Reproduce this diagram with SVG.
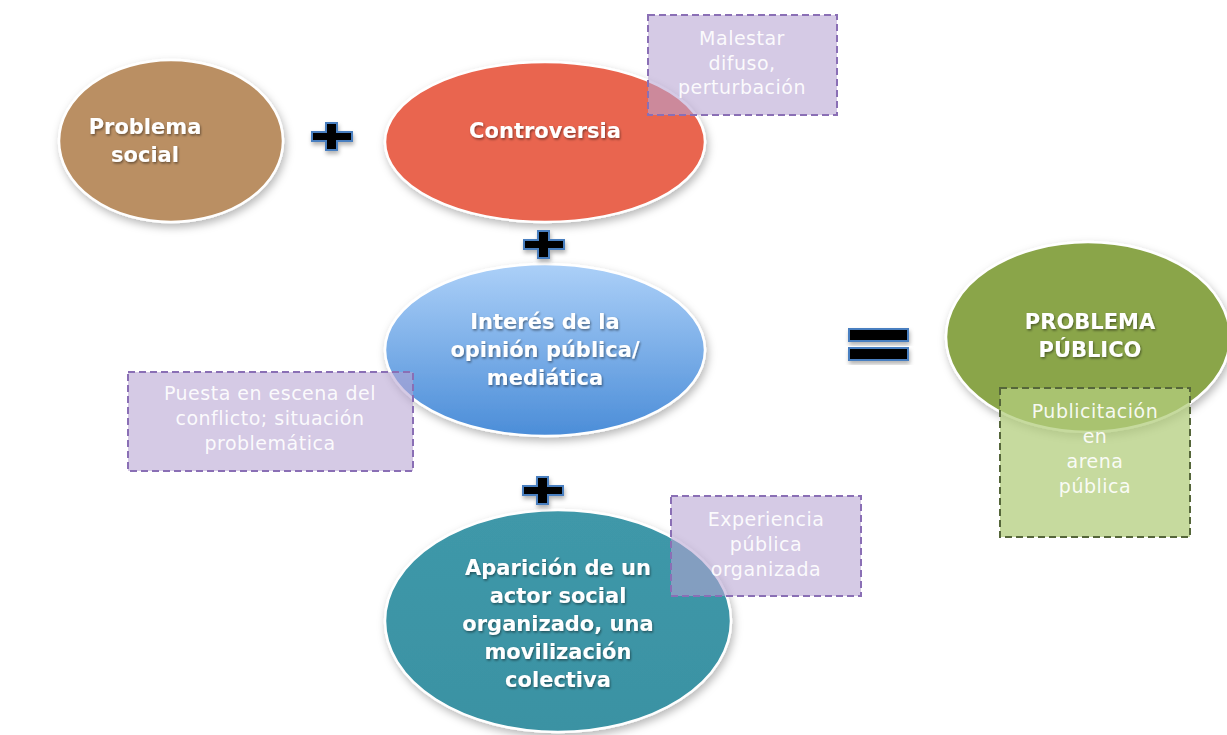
<svg xmlns="http://www.w3.org/2000/svg" width="1227" height="735" viewBox="0 0 1227 735">
<defs>
  <filter id="shadow" x="-20%" y="-20%" width="140%" height="150%">
    <feDropShadow dx="2" dy="4" stdDeviation="4" flood-color="#000" flood-opacity="0.28"/>
  </filter>
  <filter id="tshadow" x="-10%" y="-30%" width="120%" height="160%">
    <feDropShadow dx="1" dy="1.5" stdDeviation="1.2" flood-color="#000" flood-opacity="0.45"/>
  </filter>
  <filter id="sshadow" x="-20%" y="-40%" width="140%" height="180%">
    <feDropShadow dx="1" dy="3" stdDeviation="2" flood-color="#000" flood-opacity="0.3"/>
  </filter>
  <linearGradient id="blueGrad" x1="0" y1="0" x2="0" y2="1">
    <stop offset="0" stop-color="#acd0f8"/>
    <stop offset="1" stop-color="#4b8dd8"/>
  </linearGradient>
  <linearGradient id="tealGrad" x1="0" y1="0" x2="0" y2="1">
    <stop offset="0" stop-color="#3f98a9"/>
    <stop offset="1" stop-color="#3a92a3"/>
  </linearGradient>
</defs>
<style>
  .ell { stroke: #ffffff; stroke-width: 2.5; filter: url(#shadow); }
  .etxt { font-family: "DejaVu Sans", Verdana, sans-serif; font-weight: bold; font-size: 21px; fill: #ffffff; text-anchor: middle; filter: url(#tshadow); }
  .box { fill: #b7a3d2; fill-opacity: 0.58; stroke: #8a6fb5; stroke-width: 2; stroke-dasharray: 7 4; }
  .gbox { fill: #b3cd7e; fill-opacity: 0.75; stroke: #55663a; stroke-width: 2; stroke-dasharray: 7 4; }
  .btxt { font-family: "DejaVu Sans", Verdana, sans-serif; font-size: 19px; fill: #ffffff; fill-opacity: 0.92; text-anchor: middle; letter-spacing: 0.5px; }
  .sym { fill: #000000; stroke: #4a7fc0; stroke-width: 2; filter: url(#sshadow); }
</style>
<rect width="1227" height="735" fill="#ffffff"/>

<g id="problema-social">
  <ellipse class="ell" cx="171" cy="141" rx="112" ry="81" fill="#ba8f63"/>
  <text class="etxt" x="145" y="134">Problema</text>
  <text class="etxt" x="145" y="162">social</text>
</g>

<g id="controversia">
  <ellipse class="ell" cx="545" cy="142" rx="160" ry="80" fill="#e9654f"/>
  <text class="etxt" x="545" y="138">Controversia</text>
</g>

<g id="malestar">
  <rect class="box" x="648" y="15" width="189" height="100"/>
  <text class="btxt" x="742" y="45">Malestar</text>
  <text class="btxt" x="742" y="70">difuso,</text>
  <text class="btxt" x="742" y="94">perturbación</text>
</g>

<g id="interes">
  <ellipse class="ell" cx="545" cy="350" rx="160" ry="86" fill="url(#blueGrad)"/>
  <text class="etxt" x="545" y="329">Interés de la</text>
  <text class="etxt" x="545" y="357">opinión pública/</text>
  <text class="etxt" x="545" y="385">mediática</text>
</g>

<g id="puesta">
  <rect class="box" x="128" y="372" width="285" height="99"/>
  <text class="btxt" x="270" y="400">Puesta en escena del</text>
  <text class="btxt" x="270" y="425">conflicto; situación</text>
  <text class="btxt" x="270" y="450">problemática</text>
</g>

<g id="aparicion">
  <ellipse class="ell" cx="558" cy="621" rx="173" ry="111" fill="url(#tealGrad)"/>
  <text class="etxt" x="558" y="575">Aparición de un</text>
  <text class="etxt" x="558" y="603">actor social</text>
  <text class="etxt" x="558" y="631">organizado, una</text>
  <text class="etxt" x="558" y="659">movilización</text>
  <text class="etxt" x="558" y="687">colectiva</text>
</g>

<g id="experiencia">
  <rect class="box" x="671" y="496" width="190" height="100"/>
  <text class="btxt" x="766" y="526">Experiencia</text>
  <text class="btxt" x="766" y="551">pública</text>
  <text class="btxt" x="766" y="576">organizada</text>
</g>

<g id="problema-publico">
  <ellipse class="ell" cx="1088" cy="337" rx="142" ry="95" fill="#8aa54a"/>
  <text class="etxt" x="1090" y="329">PROBLEMA</text>
  <text class="etxt" x="1090" y="357">PÚBLICO</text>
</g>

<g id="publicitacion">
  <rect class="gbox" x="1000" y="388" width="190" height="149"/>
  <text class="btxt" x="1095" y="418">Publicitación</text>
  <text class="btxt" x="1095" y="443">en</text>
  <text class="btxt" x="1095" y="468">arena</text>
  <text class="btxt" x="1095" y="493">pública</text>
</g>

<g id="connectors">
  <path class="sym" d="M326,123 h11 v9 h15 v9 h-15 v9 h-11 v-9 h-14 v-9 h14 z"/>
  <path class="sym" d="M538,231 h11 v9 h15 v9 h-15 v9 h-11 v-9 h-14 v-9 h14 z"/>
  <path class="sym" d="M537,477 h11 v9 h15 v9 h-15 v9 h-11 v-9 h-14 v-9 h14 z"/>
  <rect class="sym" x="849" y="329" width="59" height="12"/>
  <rect class="sym" x="849" y="348" width="59" height="12"/>
</g>
</svg>
